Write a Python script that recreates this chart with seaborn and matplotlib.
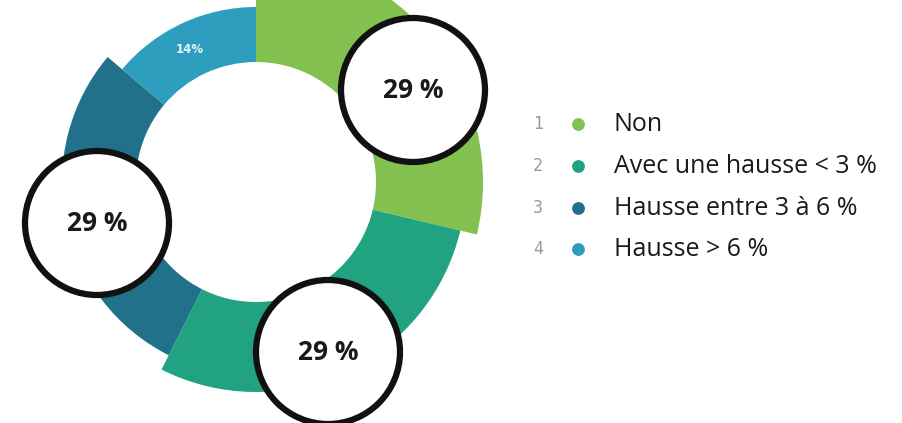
import matplotlib
matplotlib.use("Agg")
import matplotlib.pyplot as plt
import seaborn as sns
import numpy as np

# ---- data ----
categories = ["Non", "Avec une hausse < 3 %", "Hausse entre 3 à 6 %", "Hausse > 6 %"]
values = [29, 29, 29, 14]
value_labels = ["29 %", "29 %", "29 %", "14%"]
legend_numbers = ["1", "2", "3", "4"]

# ---- style ----
colors = ["#82c150", "#21a382", "#22718a", "#2e9ebe"]
outer_radii = [227, 210, 194, 175]
inner_radius = 120

sns.set_theme(style="white")
plt.rcParams["font.family"] = ["Open Sans", "DejaVu Sans"]

W, H = 903, 423
fig = plt.figure(figsize=(W / 100, H / 100), dpi=100)
ax = fig.add_axes([0, 0, 1, 1])

cx, cy = 256, H - 182

for i, r in enumerate(outer_radii):
    wedges, _ = ax.pie(values, radius=r, center=(cx, cy), startangle=90,
                       counterclock=False, colors=colors, frame=True,
                       wedgeprops=dict(width=r - inner_radius, linewidth=0))
    for j, w in enumerate(wedges):
        if j != i:
            w.set_visible(False)

# small label on the last slice
ax.text(190, H - 49, value_labels[3], color="#e8f4f8", fontsize=8.5,
        fontweight="bold", ha="center", va="center", family=["DejaVu Sans"])

# highlight circles with labels
circle_pos = [(413, 90), (328, 352), (97, 223)]
for (x, y), lab in zip(circle_pos, value_labels[:3]):
    c = plt.Circle((x, H - y), 72, facecolor="white", edgecolor="#111111",
                   linewidth=4.5, zorder=5)
    ax.add_patch(c)
    ax.text(x, H - y, lab, fontsize=19, fontweight="bold", color="#1a1a1a",
            ha="center", va="center", zorder=6)

# legend
rows_y = [124, 166, 208, 249]
for num, cat, col, y in zip(legend_numbers, categories, colors, rows_y):
    ax.text(538, H - y, num, fontsize=12, color="#9a9a9a", ha="center",
            va="center", family=["DejaVu Sans Mono"])
    ax.scatter([578], [H - y], s=85, color=col, zorder=4, linewidths=0)
    ax.text(614, H - y, cat, fontsize=18, color="#1a1a1a", ha="left",
            va="center")

ax.set_xlim(0, W)
ax.set_ylim(0, H)
ax.set_aspect("equal")
ax.axis("off")

fig.savefig("out.png", dpi=100, facecolor="white")
